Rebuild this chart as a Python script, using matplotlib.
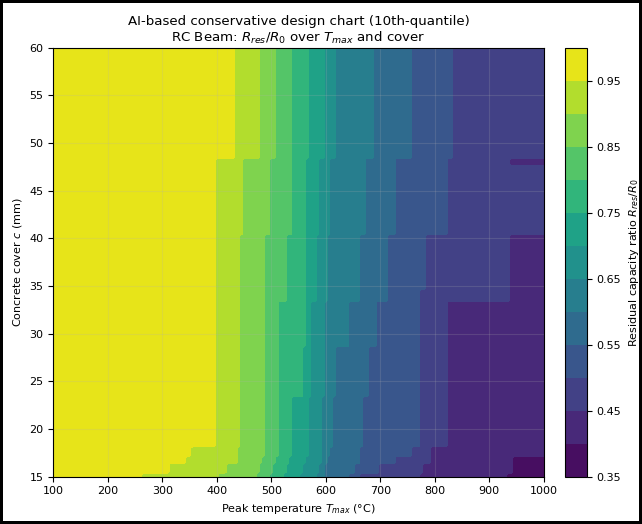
import numpy as np
import matplotlib

matplotlib.use("Agg")

from matplotlib import pyplot as plt

# cover bands (mm), top to bottom; each T_EDGE list gives, per band,
# the peak temperature where R_res/R0 drops below that level
COVER_BANDS = [60, 48.3, 47.6, 40.5, 34.6, 33.4, 28.6, 23.4, 18.2, 17.1, 16.3, 15.5, 15]

T_EDGE_095 = [435, 398, 398, 396, 396, 396, 396, 396, 352, 344, 314, 261]
T_EDGE_090 = [478, 447, 447, 445, 445, 445, 445, 444, 437, 437, 419, 405]
T_EDGE_085 = [508, 497, 497, 490, 490, 490, 490, 489, 488, 482, 478, 474]
T_EDGE_080 = [539, 539, 539, 526, 526, 513, 513, 512, 512, 510, 505, 500]
T_EDGE_075 = [570, 562, 562, 562, 562, 562, 560, 540, 538, 535, 528, 525]
T_EDGE_070 = [598, 588, 588, 583, 583, 575, 573, 568, 566, 565, 560, 555]
T_EDGE_065 = [617, 610, 610, 603, 603, 597, 597, 595, 594, 592, 590, 585]
T_EDGE_060 = [690, 675, 675, 663, 663, 645, 620, 611, 608, 605, 600, 597]
T_EDGE_055 = [760, 727, 727, 712, 712, 693, 680, 668, 665, 662, 655, 645]
T_EDGE_050 = [834, 825, 825, 785, 772, 772, 772, 772, 760, 730, 700, 665]
T_EDGE_045 = [1100, 940, 1100, 938, 938, 825, 825, 825, 791, 791, 780, 773]
T_EDGE_040 = [1100, 1100, 1100, 1100, 1100, 1100, 1100, 1100, 1100, 945, 941, 935]

LEVELS = [0.35, 0.40, 0.45, 0.50, 0.55, 0.60, 0.65, 0.70, 0.75, 0.80, 0.85, 0.90, 0.95, 1.00]
CBAR_TICKS = [0.35, 0.45, 0.55, 0.65, 0.75, 0.85, 0.95]


def build_field(t_grid, c_grid):
    edges = np.array([T_EDGE_095, T_EDGE_090, T_EDGE_085, T_EDGE_080, T_EDGE_075, T_EDGE_070,
                      T_EDGE_065, T_EDGE_060, T_EDGE_055, T_EDGE_050, T_EDGE_045, T_EDGE_040])
    lows = np.array(COVER_BANDS[1:-1])
    band = np.sum(lows[None, :] > c_grid[:, None], axis=1)
    band_edges = edges[:, band]  # (levels, n_c)
    count = np.sum(band_edges[:, :, None] <= t_grid[None, None, :], axis=0)
    return 0.975 - 0.05 * count


t_grid = np.linspace(100, 1000, 181)
c_grid = np.linspace(15, 60, 181)
z = build_field(t_grid, c_grid)

fig = plt.figure(figsize=(6.42, 5.24), dpi=100)
fig.patch.set_edgecolor("black")
fig.patch.set_linewidth(3)

ax = fig.add_axes([0.083, 0.0903, 0.764, 0.8187])
cax = fig.add_axes([0.880, 0.0903, 0.034, 0.8187])

cs = ax.contourf(t_grid, c_grid, z, levels=LEVELS, cmap="viridis")
ax.set_xlim(100, 1000)
ax.set_ylim(15, 60)
ax.set_xticks(np.arange(100, 1001, 100))
ax.set_yticks(np.arange(15, 61, 5))
ax.grid(True, alpha=0.2)
ax.tick_params(labelsize=8)
ax.set_xlabel("Peak temperature $T_{max}$ (°C)", fontsize=8)
ax.set_ylabel("Concrete cover $c$ (mm)", fontsize=8)
ax.set_title("AI-based conservative design chart (10th-quantile)\n"
             "RC Beam: $R_{res}/R_0$ over $T_{max}$ and cover", fontsize=9.6, pad=4)

cbar = fig.colorbar(cs, cax=cax, ticks=CBAR_TICKS)
cbar.ax.tick_params(labelsize=8)
cbar.set_label("Residual capacity ratio $R_{res}/R_0$", fontsize=8)

fig.savefig("out.png", dpi=100, edgecolor=fig.get_edgecolor())
